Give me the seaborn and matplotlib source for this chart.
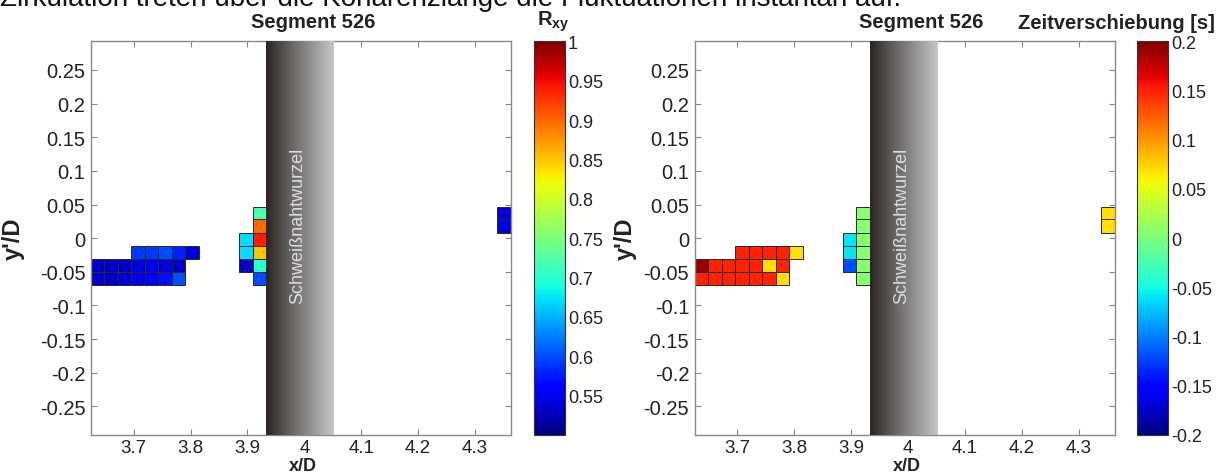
import numpy as np
import matplotlib
matplotlib.use("Agg")
import matplotlib.pyplot as plt
import seaborn as sns
from matplotlib.colors import Normalize, LinearSegmentedColormap
from matplotlib.cm import ScalarMappable
from matplotlib.ticker import FuncFormatter

sns.set_theme(style="white")
plt.rcParams["font.family"] = ["Liberation Sans", "DejaVu Sans"]
plt.rcParams["axes.unicode_minus"] = False
plt.rcParams["mathtext.fontset"] = "custom"
plt.rcParams["mathtext.bf"] = "Liberation Sans:bold"
plt.rcParams["mathtext.rm"] = "Liberation Sans"

# ---------------- data ----------------
# cell centres (x/D, y'/D)
cell_x = [3.7079, 3.7316, 3.7552, 3.7789, 3.8026,
          3.6368, 3.6605, 3.6842, 3.7079, 3.7316, 3.7552, 3.7789,
          3.6368, 3.6605, 3.6842, 3.7079, 3.7316, 3.7552, 3.7789,
          3.8974, 3.8974, 3.8974,
          3.9210, 3.9210, 3.9210, 3.9210, 3.9210, 3.9210,
          4.3512, 4.3512]
cell_y = [-0.021, -0.021, -0.021, -0.021, -0.021,
          -0.041, -0.041, -0.041, -0.041, -0.041, -0.041, -0.041,
          -0.060, -0.060, -0.060, -0.060, -0.060, -0.060, -0.060,
          -0.002, -0.021, -0.041,
          0.037, 0.018, -0.002, -0.021, -0.041, -0.060,
          0.037, 0.018]
r_xy = [0.59, 0.59, 0.60, 0.58, 0.54,
        0.53, 0.53, 0.53, 0.54, 0.55, 0.54, 0.53,
        0.53, 0.53, 0.54, 0.55, 0.56, 0.57, 0.60,
        0.67, 0.67, 0.53,
        0.72, 0.90, 0.94, 0.85, 0.70, 0.60,
        0.54, 0.54]
zeitverschiebung = [0.15, 0.15, 0.15, 0.15, 0.07,
                    0.19, 0.15, 0.15, 0.15, 0.15, 0.07, 0.15,
                    0.15, 0.15, 0.15, 0.15, 0.15, 0.15, 0.07,
                    -0.06, -0.06, -0.12,
                    0.005, 0.005, 0.005, 0.005, 0.005, 0.005,
                    0.07, 0.07]
cell_w = 0.02368
cell_h = 0.0195

x_ticks = [3.7, 3.8, 3.9, 4.0, 4.1, 4.2, 4.3]
y_ticks = [0.25, 0.2, 0.15, 0.1, 0.05, 0.0, -0.05, -0.1, -0.15, -0.2, -0.25]
rxy_ticks = [0.55, 0.6, 0.65, 0.7, 0.75, 0.8, 0.85, 0.9, 0.95, 1.0]
lag_ticks = [-0.2, -0.15, -0.1, -0.05, 0.0, 0.05, 0.1, 0.15, 0.2]
wall_x = (3.933, 4.051)
xlim = (3.625, 4.363)
ylim = (-0.2926, 0.2926)

title = "Segment 526"
top_line = "Zirkulation treten über die Kohärenzlänge die Fluktuationen instantan auf."

# ---------------- figure ----------------
W, H = 1231, 477
fig = plt.figure(figsize=(W / 100, H / 100), dpi=100)
cmap = matplotlib.colormaps["jet"]
wall_cmap = LinearSegmentedColormap.from_list("wall", ["#2a2522", "#7b7978", "#c6c6c6"])


def fmt(v, pos=None):
    v = round(v, 4)
    if v == 0:
        return "0"
    return f"{v:g}"


def px_rect(x0, y0, x1, y1):
    return [x0 / W, 1 - y1 / H, (x1 - x0) / W, (y1 - y0) / H]


panels = [
    dict(ax=px_rect(91.0, 42.3, 510.8, 436.0), cax=px_rect(533.6, 42.3, 565.0, 436.0),
         vals=r_xy, vmin=0.5, vmax=1.0, ticks=rxy_ticks,
         clabel=r"$\mathbf{R_{xy}}$", clx=553.5, cly=26, title_x=313.5, ylab_x=-0.157),
    dict(ax=px_rect(694.8, 42.3, 1114.6, 436.0), cax=px_rect(1137.3, 42.3, 1168.3, 436.0),
         vals=zeitverschiebung, vmin=-0.2, vmax=0.2, ticks=lag_ticks,
         clabel="Zeitverschiebung [s]", clx=1116.5, cly=29, title_x=920.8, ylab_x=-0.138),
]

for p in panels:
    ax = fig.add_axes(p["ax"])
    norm = Normalize(p["vmin"], p["vmax"])
    cy = np.array(cell_y)
    ax.bar(cell_x, [cell_h] * len(cell_x), width=cell_w, bottom=cy - cell_h / 2,
           color=cmap(norm(np.array(p["vals"]))), edgecolor="#2a2a2a", linewidth=0.7,
           align="center", zorder=2)
    grad = np.linspace(0, 1, 256).reshape(1, -1)
    ax.imshow(grad, cmap=wall_cmap, aspect="auto", extent=[wall_x[0], wall_x[1], ylim[0], ylim[1]],
              zorder=3, interpolation="bilinear")
    ax.text(3.989, 0.019, "Schweißnahtwurzel", rotation=90,
            ha="center", va="center", color="#dedede", fontsize=13, zorder=4)
    ax.set_xlim(*xlim)
    ax.set_ylim(*ylim)
    ax.set_xticks(x_ticks)
    ax.set_yticks(y_ticks)
    ax.xaxis.set_major_formatter(FuncFormatter(fmt))
    ax.yaxis.set_major_formatter(FuncFormatter(fmt))
    ax.tick_params(direction="in", length=4, width=0.8, color="#888888",
                   top=True, right=True, bottom=True, left=True, labelcolor="#222222")
    ax.tick_params(axis="x", labelsize=13.5, pad=3)
    ax.tick_params(axis="y", labelsize=14.5, pad=4)
    for s in ax.spines.values():
        s.set_color("#8a8a8a")
        s.set_linewidth(1.0)
    ax.set_xlabel("x/D", fontsize=13, fontweight="bold", color="#222222")
    ax.set_ylabel("y'/D", fontsize=17, fontweight="bold", color="#222222")
    ax.xaxis.set_label_coords(0.505, -0.0555)
    ax.yaxis.set_label_coords(p["ylab_x"], 0.5)

    cax = fig.add_axes(p["cax"])
    cb = fig.colorbar(ScalarMappable(norm=norm, cmap=cmap), cax=cax)
    cb.set_ticks(p["ticks"])
    cb.ax.yaxis.set_major_formatter(FuncFormatter(fmt))
    cax.tick_params(direction="in", length=3, width=0.8, labelsize=13, pad=2,
                    left=True, right=True, color="#333333", labelcolor="#222222")
    cb.outline.set_edgecolor("#333333")
    cb.outline.set_linewidth(0.8)

    fig.text(p["title_x"] / W, 1 - 28 / H, title, ha="center", va="baseline",
             fontsize=14.5, fontweight="bold", color="#222222")
    fig.text(p["clx"] / W, 1 - p["cly"] / H, p["clabel"], ha="center", va="baseline",
             fontsize=14.5, fontweight="bold", color="#222222")

fig.text(0.0, 1 - 5.5 / H, top_line, ha="left", va="baseline", fontsize=20, color="#111111")

fig.savefig("out.png", dpi=100)
